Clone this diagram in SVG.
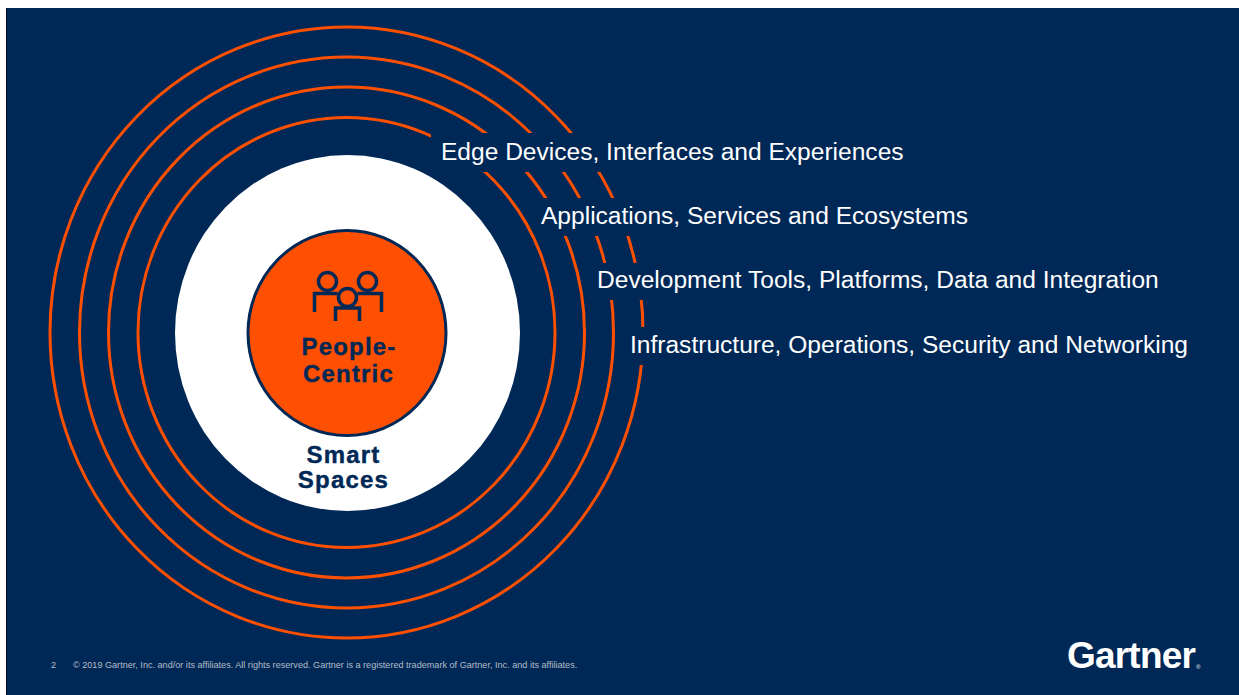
<svg xmlns="http://www.w3.org/2000/svg" width="1239" height="695" viewBox="0 0 1239 695">
<style>
.ring{fill:none;stroke:#fe5000;stroke-width:3}
.gap{fill:#002856}
.lab{font-family:"Liberation Sans",Arial,sans-serif;font-size:24.55px;fill:#fff}
.hub{font-family:"Liberation Sans",Arial,sans-serif;font-size:24px;font-weight:700;fill:#002856;stroke:#002856;stroke-width:.4;text-anchor:middle;letter-spacing:1.2px}
.foot{font-family:"Liberation Sans",Arial,sans-serif;font-size:9.1px;fill:#b4bcc8}
.ico{fill:none;stroke:#002856;stroke-width:3.5}
</style>
<rect width="1239" height="695" fill="#fff"/>
<rect x="6" y="8" width="1233" height="687" fill="#002856"/>
<rect x="6" y="8" width="1" height="687" fill="#00101f"/>
<g id="rings">
<ellipse class="ring" cx="346.5" cy="332.5" rx="296.5" ry="305.5"/>
<ellipse class="ring" cx="346.5" cy="332.5" rx="267" ry="275.5"/>
<ellipse class="ring" cx="346.5" cy="332.5" rx="238" ry="245.5"/>
<ellipse class="ring" cx="346.5" cy="332.5" rx="208.5" ry="215"/>
</g>
<g id="smart-spaces">
<ellipse cx="347.5" cy="333" rx="172.5" ry="178" fill="#fff"/>
<text class="hub" x="343.5" y="463">Smart</text>
<text class="hub" x="343.5" y="488">Spaces</text>
</g>
<g id="people-centric">
<ellipse cx="347" cy="333" rx="99" ry="102.5" fill="#fe5000" stroke="#002856" stroke-width="3"/>
<circle class="ico" cx="327.5" cy="281.5" r="9"/>
<circle class="ico" cx="367.5" cy="281.5" r="9"/>
<circle class="ico" cx="347.5" cy="297.5" r="9"/>
<path class="ico" d="M314.5 312V293.5H337.5M381.5 312V293.5H357.5M335.5 321V308H359.5V321"/>
<text class="hub" x="349" y="355">People-</text>
<text class="hub" x="348.5" y="382">Centric</text>
</g>
<g id="layer-edge"><rect class="gap" x="431" y="133" width="480" height="39"/><text class="lab" x="441" y="160">Edge Devices, Interfaces and Experiences</text></g>
<g id="layer-apps"><rect class="gap" x="538" y="198" width="436" height="38"/><text class="lab" x="541" y="224">Applications, Services and Ecosystems</text></g>
<g id="layer-dev"><rect class="gap" x="595" y="263" width="570" height="37"/><text class="lab" x="597" y="288">Development Tools, Platforms, Data and Integration</text></g>
<g id="layer-infra"><rect class="gap" x="627" y="327" width="565" height="38"/><text class="lab" x="630" y="352.5">Infrastructure, Operations, Security and Networking</text></g>
<g id="footer">
<text class="foot" x="51" y="668">2</text>
<text class="foot" x="73" y="668">© 2019 Gartner, Inc. and/or its affiliates. All rights reserved. Gartner is a registered trademark of Gartner, Inc. and its affiliates.</text>
</g>
<g id="logo"><text x="1067" y="668" font-family="'Liberation Sans',Arial,sans-serif" font-size="37" font-weight="700" fill="#fff" letter-spacing="-0.8">Gartner</text><text x="1196" y="669" font-family="'Liberation Sans',Arial,sans-serif" font-size="6" fill="#fff">®</text></g>
</svg>
